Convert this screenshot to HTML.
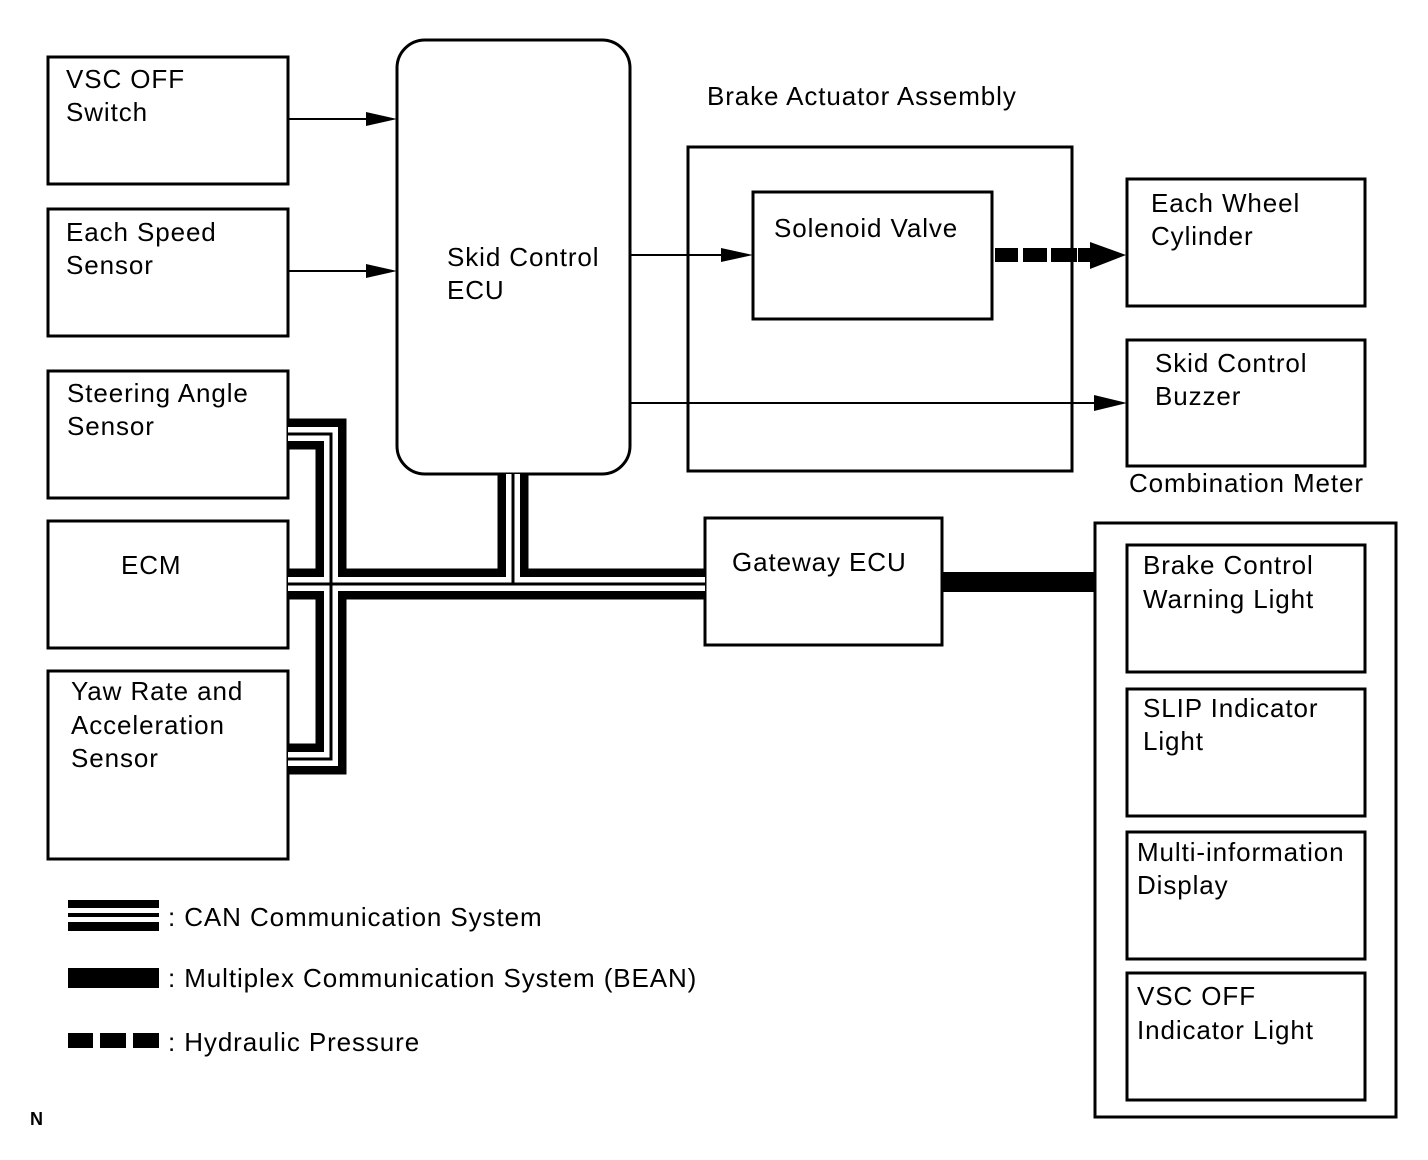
<!DOCTYPE html>
<html><head><meta charset="utf-8"><style>
html,body{margin:0;padding:0;background:#fff;}
svg{display:block;}
text{font-family:"Liberation Sans",Arial,sans-serif;font-size:26px;letter-spacing:0.9px;fill:#000;}
</style></head><body>
<svg width="1428" height="1160" viewBox="0 0 1428 1160" xmlns="http://www.w3.org/2000/svg">
<g fill="none" stroke="#000" stroke-width="3">
<rect x="48" y="57" width="240" height="127"/>
<rect x="48" y="209" width="240" height="127"/>
<rect x="48" y="371" width="240" height="127"/>
<rect x="48" y="521" width="240" height="127"/>
<rect x="48" y="671" width="240" height="188"/>
<rect x="397" y="40" width="233" height="434" rx="28"/>
<rect x="688" y="147" width="384" height="324"/>
<rect x="753" y="192" width="239" height="127"/>
<rect x="1127" y="179" width="238" height="127"/>
<rect x="1127" y="340" width="238" height="126"/>
<rect x="705" y="518" width="237" height="127"/>
<rect x="1095" y="523" width="301" height="594"/>
<rect x="1127" y="545" width="238" height="127"/>
<rect x="1127" y="689" width="238" height="127"/>
<rect x="1127" y="832" width="238" height="127"/>
<rect x="1127" y="973" width="238" height="127"/>
</g>
<g stroke="#000" stroke-width="2">
<line x1="288" y1="119" x2="370" y2="119"/>
<line x1="288" y1="271" x2="370" y2="271"/>
<line x1="630" y1="255" x2="725" y2="255"/>
<line x1="630" y1="403" x2="1100" y2="403"/>
</g>
<g fill="#000">
<polygon points="366,112 397,119 366,126"/>
<polygon points="366,264 397,271 366,278"/>
<polygon points="721,248 753,255 721,262"/>
<polygon points="1094,395 1127,403 1094,411"/>
<rect x="995" y="248" width="23" height="14"/>
<rect x="1023" y="248" width="24" height="14"/>
<rect x="1051" y="248" width="26" height="14"/>
<rect x="1078" y="248" width="14" height="14"/>
<polygon points="1090,242 1126,255 1090,269"/>
<rect x="942" y="572" width="153" height="20"/>
</g>
<g fill="none" stroke-linecap="butt" stroke-linejoin="miter">
<g stroke="#000" stroke-width="31">
<path d="M288 434 H331 V759 H288"/>
<path d="M288 584 H705"/>
<path d="M513 474 V584"/>
</g>
<g stroke="#fff" stroke-width="14">
<path d="M288 434 H331 V759 H288"/>
<path d="M288 584 H705"/>
<path d="M513 474 V584"/>
</g>
<g stroke="#000" stroke-width="3">
<path d="M288 434 H331 V759 H288"/>
<path d="M288 584 H705"/>
<path d="M513 474 V584"/>
</g>
</g>
<text x="66" y="88">VSC OFF</text><text x="66" y="121">Switch</text>
<text x="66" y="241">Each Speed</text><text x="66" y="274">Sensor</text>
<text x="67" y="402">Steering Angle</text><text x="67" y="435">Sensor</text>
<text x="121" y="574">ECM</text>
<text x="71" y="700">Yaw Rate and</text><text x="71" y="734">Acceleration</text><text x="71" y="767">Sensor</text>
<text x="447" y="266">Skid Control</text><text x="447" y="299">ECU</text>
<text x="707" y="105">Brake Actuator Assembly</text>
<text x="774" y="237">Solenoid Valve</text>
<text x="1151" y="212">Each Wheel</text><text x="1151" y="245">Cylinder</text>
<text x="1155" y="372">Skid Control</text><text x="1155" y="405">Buzzer</text>
<text x="1129" y="492">Combination Meter</text>
<text x="732" y="571">Gateway ECU</text>
<text x="1143" y="574">Brake Control</text><text x="1143" y="608">Warning Light</text>
<text x="1143" y="717">SLIP Indicator</text><text x="1143" y="750">Light</text>
<text x="1137" y="861">Multi-information</text><text x="1137" y="894">Display</text>
<text x="1137" y="1005">VSC OFF</text><text x="1137" y="1039">Indicator Light</text>
<g fill="#000">
<rect x="68" y="900" width="91" height="8"/>
<rect x="68" y="913" width="91" height="4"/>
<rect x="68" y="922" width="91" height="9"/>
<rect x="68" y="968" width="91" height="20"/>
<rect x="68" y="1033" width="25" height="15"/>
<rect x="100" y="1033" width="26" height="15"/>
<rect x="133" y="1033" width="26" height="15"/>
</g>
<text x="168" y="926">: CAN Communication System</text>
<text x="168" y="987">: Multiplex Communication System (BEAN)</text>
<text x="168" y="1051">: Hydraulic Pressure</text>
<text x="30" y="1125" style="font-size:18px;font-weight:bold;letter-spacing:0">N</text>
</svg>
</body></html>
